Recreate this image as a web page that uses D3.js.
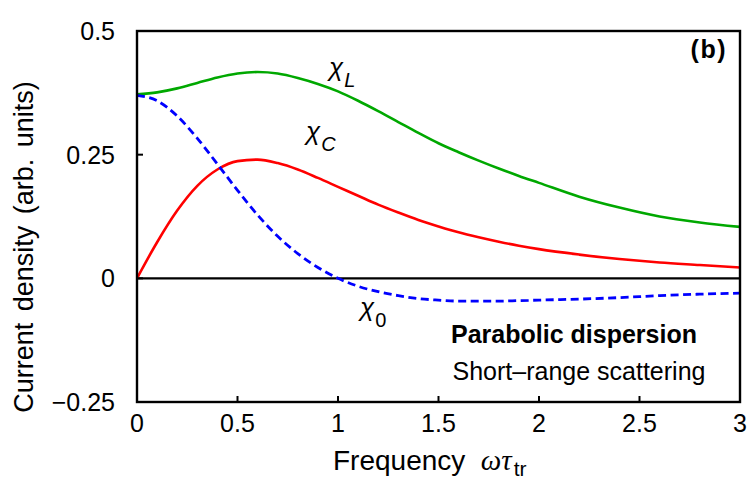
<!DOCTYPE html>
<html>
<head>
<meta charset="utf-8">
<script src="https://cdn.jsdelivr.net/npm/d3@7"></script>
<style>
  body { margin: 0; background: #fff; }
  svg { display: block; font-family: 'Liberation Sans', Arial, sans-serif; }
</style>
</head>
<body>
<svg id="chart" width="747" height="498"></svg>
<script>
// frequency samples (omega * tau_tr)
const freq = [0, 0.1, 0.2, 0.3, 0.4, 0.5, 0.6, 0.7, 0.8, 0.9, 1.0,
  1.1, 1.2, 1.3, 1.4, 1.5, 1.6, 1.7, 1.8, 1.9, 2.0, 2.2, 2.4, 2.6, 2.8, 3.0]

// chi_L (green)
const chiL = [0.372, 0.376, 0.384, 0.395, 0.406, 0.414, 0.417, 0.414, 0.405, 0.393, 0.378,
  0.359, 0.338, 0.316, 0.294, 0.273, 0.255, 0.238, 0.222, 0.207, 0.193, 0.165, 0.143, 0.125, 0.113, 0.104]

// chi_C (red)
const chiC = [0, 0.073, 0.137, 0.187, 0.220, 0.237, 0.240, 0.233, 0.220, 0.203, 0.185,
  0.167, 0.149, 0.133, 0.118, 0.105, 0.093, 0.083, 0.074, 0.066, 0.059, 0.048, 0.039, 0.032, 0.027, 0.022]

// chi_0 (blue, dashed)
const chi0 = [0.370, 0.359, 0.328, 0.283, 0.231, 0.178, 0.128, 0.085, 0.050, 0.022, 0,
  -0.016, -0.027, -0.035, -0.041, -0.044, -0.046, -0.046, -0.046, -0.045, -0.044, -0.042, -0.039, -0.035, -0.032, -0.030]

const xTicks = [0, 0.5, 1, 1.5, 2, 2.5, 3]
const xTickLabels = ['0', '0.5', '1', '1.5', '2', '2.5', '3']
const yTicks = [-0.25, 0, 0.25, 0.5]
const yTickLabels = ['\u22120.25', '0', '0.25', '0.5']

const svg = d3.select('#chart')

const x = d3.scaleLinear().domain([0, 3]).range([137, 740])
const y = d3.scaleLinear().domain([-0.25, 0.5]).range([402, 31])

// zero line
svg.append('line')
  .attr('x1', x(0)).attr('x2', x(3))
  .attr('y1', y(0)).attr('y2', y(0))
  .attr('stroke', '#000').attr('stroke-width', 2.2)

const line = d3.line()
  .x((d, i) => x(freq[i]))
  .y(d => y(d))
  .curve(d3.curveMonotoneX)

svg.append('path').datum(chiL)
  .attr('d', line).attr('fill', 'none')
  .attr('stroke', '#00a800').attr('stroke-width', 2.6)

svg.append('path').datum(chiC)
  .attr('d', line).attr('fill', 'none')
  .attr('stroke', '#ff0000').attr('stroke-width', 2.6)

svg.append('path').datum(chi0)
  .attr('d', line).attr('fill', 'none')
  .attr('stroke', '#0000ff').attr('stroke-width', 2.8)
  .attr('stroke-dasharray', '8,4.5')

// frame
svg.append('rect')
  .attr('x', x(0)).attr('y', y(0.5))
  .attr('width', x(3) - x(0)).attr('height', y(-0.25) - y(0.5))
  .attr('fill', 'none').attr('stroke', '#000').attr('stroke-width', 2.4)

// ticks (inward)
svg.selectAll('.xtick').data(xTicks).enter().append('line')
  .attr('x1', d => x(d)).attr('x2', d => x(d))
  .attr('y1', y(-0.25)).attr('y2', y(-0.25) - 6)
  .attr('stroke', '#000').attr('stroke-width', 2)

svg.selectAll('.ytick').data(yTicks).enter().append('line')
  .attr('x1', x(0)).attr('x2', x(0) + 6)
  .attr('y1', d => y(d)).attr('y2', d => y(d))
  .attr('stroke', '#000').attr('stroke-width', 2)

svg.selectAll('.xlab').data(xTicks).enter().append('text')
  .attr('x', d => x(d)).attr('y', 432)
  .attr('text-anchor', 'middle')
  .attr('font-size', 25)
  .text((d, i) => xTickLabels[i])

svg.selectAll('.ylab').data(yTicks).enter().append('text')
  .attr('x', 115).attr('y', d => y(d) + 9)
  .attr('text-anchor', 'end')
  .attr('font-size', 25)
  .text((d, i) => yTickLabels[i])

// axis titles
const xt = svg.append('text')
  .attr('x', 333).attr('y', 470)
  .attr('font-size', 28)
xt.append('tspan').text('Frequency\u00a0\u00a0')
xt.append('tspan').attr('font-family', "'Liberation Serif', serif").attr('font-style', 'italic')
  .attr('font-size', 29).text('\u03c9\u03c4')
xt.append('tspan').attr('font-size', 21).attr('dy', 6).attr('dx', 2).text('tr')

svg.append('text')
  .attr('transform', 'translate(33,247) rotate(-90)')
  .attr('text-anchor', 'middle')
  .attr('font-size', 27)
  .attr('word-spacing', 4)
  .text('Current density (arb. units)')

// curve labels
function chiLabel (px, py, sub, italicSub) {
  const t = svg.append('text').attr('x', px).attr('y', py).attr('font-size', 26)
  t.append('tspan').attr('font-style', 'italic').text('\u03c7')
  t.append('tspan').attr('font-size', 20).attr('dy', 11).attr('dx', 1)
    .attr('font-style', italicSub ? 'italic' : 'normal').text(sub)
}
chiLabel(329, 76, 'L', true)
chiLabel(306, 140, 'C', true)
chiLabel(360, 316, '0', false)

svg.append('text')
  .attr('x', 574).attr('y', 343)
  .attr('text-anchor', 'middle')
  .attr('font-size', 25).attr('font-weight', 'bold')
  .text('Parabolic dispersion')

svg.append('text')
  .attr('x', 579).attr('y', 380)
  .attr('text-anchor', 'middle')
  .attr('font-size', 25)
  .text('Short\u2013range scattering')

svg.append('text')
  .attr('x', 727).attr('y', 58)
  .attr('text-anchor', 'end')
  .attr('font-size', 25).attr('font-weight', 'bold')
  .attr('letter-spacing', 1.5)
  .text('(b)')
</script>
</body>
</html>
